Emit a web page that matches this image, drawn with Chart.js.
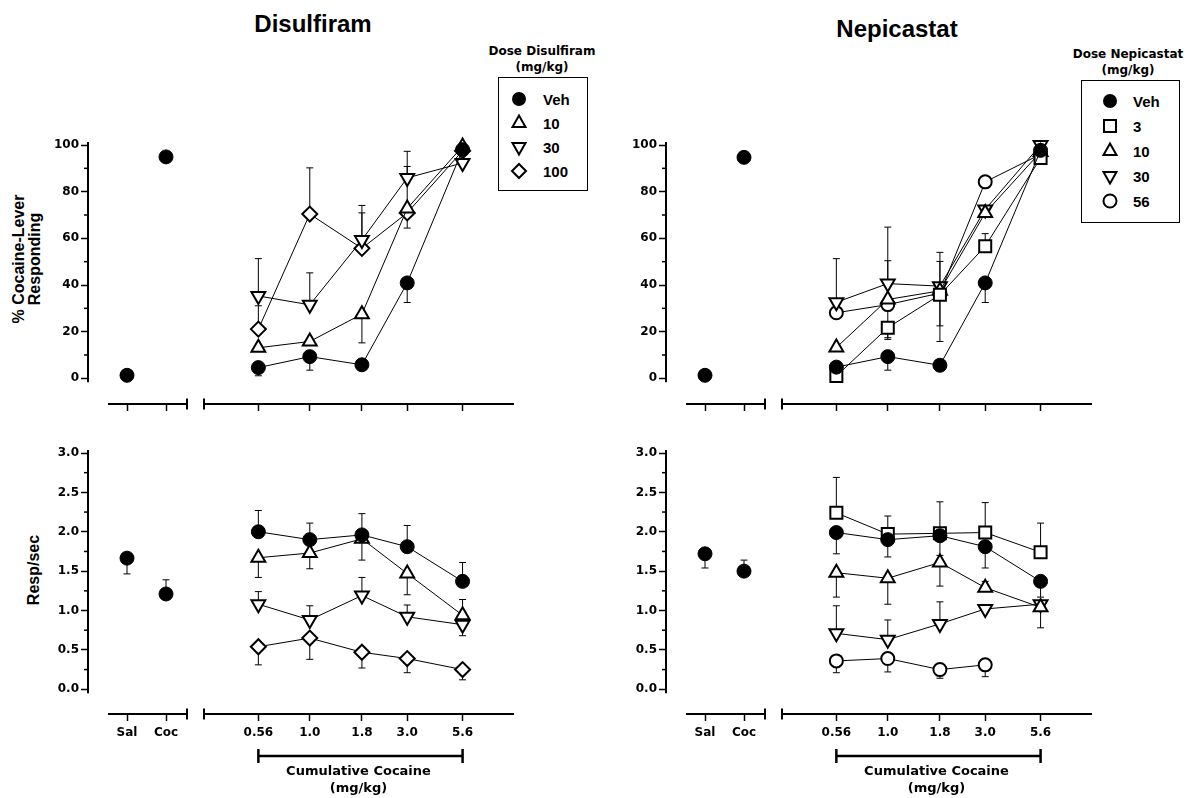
<!DOCTYPE html>
<html><head><meta charset="utf-8">
<script src="https://cdn.jsdelivr.net/npm/chart.js@4.4.1/dist/chart.umd.min.js"></script>
<style>
html,body{margin:0;padding:0;background:#fff;}
body{width:1192px;height:798px;overflow:hidden;position:relative;font-family:'Liberation Sans',Arial,sans-serif;color:#000;}
canvas{position:absolute;}
.t{position:absolute;font-weight:bold;white-space:nowrap;transform:translate(-50%,-50%);line-height:1;}
.yt{position:absolute;font-weight:bold;white-space:nowrap;text-align:center;font-size:16px;line-height:16px;transform:translate(-50%,-50%) rotate(-90deg);}
.lg{position:absolute;border:1.5px solid #000;box-sizing:border-box;}
.li{position:absolute;font-weight:bold;font-size:15px;transform:translateY(-50%);line-height:1;}
.ls{position:absolute;transform:translate(-50%,-50%);}
.lt{position:absolute;font-family:'DejaVu Sans',sans-serif;font-weight:bold;font-size:12px;transform:translate(-50%,-50%);white-space:nowrap;line-height:1;}
</style></head><body>
<div class="t" style="left:313px;top:24px;font-size:24px;">Disulfiram</div>
<div class="t" style="left:897px;top:29px;font-size:24px;">Nepicastat</div>
<div class="yt" style="left:27px;top:259px;">% Cocaine-Lever<br>Responding</div>
<div class="yt" style="left:34px;top:570px;">Resp/sec</div>
<div id="legends"></div>
<canvas id="c1" width="168" height="291" style="left:28px;top:133px;"></canvas>
<canvas id="c2" width="311" height="291" style="left:203px;top:133px;"></canvas>
<canvas id="c3" width="168" height="291" style="left:606px;top:133px;"></canvas>
<canvas id="c4" width="311" height="291" style="left:781px;top:133px;"></canvas>
<canvas id="c5" width="168" height="357" style="left:28px;top:441px;"></canvas>
<canvas id="c6" width="311" height="357" style="left:203px;top:441px;"></canvas>
<canvas id="c7" width="168" height="357" style="left:606px;top:441px;"></canvas>
<canvas id="c8" width="311" height="357" style="left:781px;top:441px;"></canvas>
<script>
// ---------------- DATA ----------------
const controlLabels = ['Sal', 'Coc'];
const doses = [0.56, 1.0, 1.8, 3.0, 5.6];
const doseLabels = ['0.56', '1.0', '1.8', '3.0', '5.6'];
const pctTicks = [0, 20, 40, 60, 80, 100];
const rateTicks = [0.0, 0.5, 1.0, 1.5, 2.0, 2.5, 3.0];
// error arrays: signed SEM, + drawn upward, - drawn downward, null = not visible

// Disulfiram, % cocaine-lever responding
const disCtrlPct = [1.3, 94.9];
const disVehPct = [4.6, 9.3, 5.8, 40.9, 98.0];
const dis10Pct = [13.1, 15.8, 27.5, 72.8, 99.4];
const dis30Pct = [35.3, 31.5, 59.3, 85.9, 92.3];
const dis100Pct = [21.1, 70.4, 55.7, 70.9, 97.5];
const disCtrlPctErr = [null, null];
const disVehPctErr = [-3.5, -5.8, -2.0, -8.4, null];
const dis10PctErr = [null, null, -12.3, 18.0, null];
const dis30PctErr = [16.0, 13.7, 14.8, 11.4, null];
const dis100PctErr = [10.0, 19.8, 15.2, -6.5, null];

// Disulfiram, response rate (resp/sec)
const disCtrlRate = [1.665, 1.21];
const disVehRate = [2.0, 1.9, 1.96, 1.81, 1.37];
const dis10Rate = [1.67, 1.73, 1.91, 1.47, 0.94];
const dis30Rate = [1.08, 0.88, 1.19, 0.92, 0.82];
const dis100Rate = [0.54, 0.65, 0.47, 0.39, 0.25];
const disCtrlRateErr = [-0.2, 0.18];
const disVehRateErr = [0.27, 0.21, 0.27, 0.27, 0.24];
const dis10RateErr = [-0.25, -0.2, -0.27, -0.27, 0.2];
const dis30RateErr = [0.16, 0.18, 0.23, 0.15, -0.14];
const dis100RateErr = [-0.23, -0.27, -0.2, -0.18, -0.13];

// Nepicastat, % cocaine-lever responding
const nepCtrlPct = [1.3, 94.7];
const nepVehPct = [4.8, 9.3, 5.6, 40.9, 97.7];
const nep3Pct = [1.0, 21.7, 35.8, 56.6, 94.4];
const nep10Pct = [13.2, 33.8, 37.5, 70.9, 97.0];
const nep30Pct = [32.6, 40.6, 39.5, 72.4, 100.0];
const nep56Pct = [28.1, 31.6, 36.5, 84.2, 96.0];
const nepCtrlPctErr = [null, null];
const nepVehPctErr = [-3.0, -5.8, null, -8.4, null];
const nep3PctErr = [null, -4.3, -20.0, 5.4, null];
const nep10PctErr = [null, 16.6, 12.6, null, null];
const nep30PctErr = [18.7, 24.2, 14.5, null, null];
const nep56PctErr = [null, -14.9, -14.0, null, null];

// Nepicastat, response rate (resp/sec)
const nepCtrlRate = [1.72, 1.50];
const nepVehRate = [1.99, 1.90, 1.95, 1.81, 1.37];
const nep3Rate = [2.24, 1.97, 1.98, 1.99, 1.74];
const nep10Rate = [1.48, 1.41, 1.61, 1.29, 1.04];
const nep30Rate = [0.71, 0.63, 0.83, 1.02, 1.08];
const nep56Rate = [0.36, 0.39, 0.25, 0.31, null];
const nepCtrlRateErr = [-0.18, 0.14];
const nepVehRateErr = [-0.27, -0.22, -0.25, -0.27, -0.2];
const nep3RateErr = [0.45, 0.23, 0.4, 0.38, 0.37];
const nep10RateErr = [-0.31, -0.33, -0.3, 0.08, -0.26];
const nep30RateErr = [0.35, 0.25, 0.28, null, null];
const nep56RateErr = [-0.15, -0.17, -0.11, -0.15, null];

// ---------------- STYLE ----------------
const TICKFONT = {family: "'DejaVu Sans', sans-serif", size: 12, weight: 'bold'};
const MARK = {
  veh: {pointStyle: 'circle', pointRadius: 7, pointBackgroundColor: '#000', pointBorderColor: '#000', pointBorderWidth: 1},
  sq:  {pointStyle: 'rect', pointRadius: 8.5, pointBackgroundColor: '#fff', pointBorderColor: '#000', pointBorderWidth: 2},
  tri: {pointStyle: 'triangle', pointRadius: 8, pointBackgroundColor: '#fff', pointBorderColor: '#000', pointBorderWidth: 2},
  inv: {pointStyle: 'triangle', pointRotation: 180, pointRadius: 8, pointBackgroundColor: '#fff', pointBorderColor: '#000', pointBorderWidth: 2},
  dia: {pointStyle: 'rectRot', pointRadius: 7.5, pointBackgroundColor: '#fff', pointBorderColor: '#000', pointBorderWidth: 2},
  cir: {pointStyle: 'circle', pointRadius: 6.5, pointBackgroundColor: '#fff', pointBorderColor: '#000', pointBorderWidth: 2}
};

function pts(xs, ys) { return xs.map((x, i) => ({x: x, y: ys[i]})); }
function ds(xs, ys, errs, mark, line) {
  return Object.assign({data: pts(xs, ys), errs: errs, showLine: line, borderColor: '#000', borderWidth: 1,
    clip: false, spanGaps: false, pointHoverRadius: 0}, MARK[mark]);
}

const decor = {
  id: 'decor',
  beforeDatasetsDraw(chart) {
    const ctx = chart.ctx, ys = chart.scales.y;
    ctx.save(); ctx.strokeStyle = '#000'; ctx.lineWidth = 1;
    chart.data.datasets.forEach((d, di) => {
      if (!d.errs) return;
      const meta = chart.getDatasetMeta(di);
      meta.data.forEach((p, i) => {
        const e = d.errs[i], v = d.data[i] ? d.data[i].y : null;
        if (e == null || v == null) return;
        const y1 = ys.getPixelForValue(v + e);
        ctx.beginPath();
        ctx.moveTo(p.x, p.y); ctx.lineTo(p.x, y1);
        ctx.moveTo(p.x - 3.5, y1); ctx.lineTo(p.x + 3.5, y1);
        ctx.stroke();
      });
    });
    ctx.restore();
  },
  afterDraw(chart, args, o) {
    const ctx = chart.ctx, a = chart.chartArea, xs = chart.scales.x, ys = chart.scales.y;
    const ln = (x1, y1, x2, y2) => { ctx.beginPath(); ctx.moveTo(x1, y1); ctx.lineTo(x2, y2); ctx.stroke(); };
    ctx.save(); ctx.strokeStyle = '#000'; ctx.lineWidth = 2;
    if (o.yAxis) {
      ln(a.left, ys.getPixelForValue(ys.max) - 3, a.left, ys.getPixelForValue(0) + 4);
      ctx.lineWidth = 1.5;
      const t = ys.ticks.map(k => k.value);
      for (let i = 0; i < t.length - 1; i++) {
        const yy = ys.getPixelForValue((t[i] + t[i + 1]) / 2);
        ln(a.left, yy, a.left - 4, yy);
      }
      ctx.lineWidth = 2;
    }
    const yb = a.bottom;
    if (o.seg === 'ctrl') {
      const x1 = xs.getPixelForValue(1) - 19, x2 = xs.getPixelForValue(2) + 21;
      ln(x1, yb, x2, yb);
      ln(x2, yb - 5.5, x2, yb + 5.5);
    } else if (o.seg === 'dose') {
      ln(a.left, yb, a.right, yb);
      ln(a.left + 1, yb - 5.5, a.left + 1, yb + 5.5);
    }
    if (o.bracket) {
      const by = yb + 42;
      const bx1 = xs.getPixelForValue(doses[0]), bx2 = xs.getPixelForValue(doses[doses.length - 1]);
      ctx.lineWidth = 2.5;
      ln(bx1, by, bx2, by);
      ln(bx1, by - 7, bx1, by + 7);
      ln(bx2, by - 7, bx2, by + 7);
    }
    ctx.restore();
  }
};

function yScale(range, majors, fmt, show) {
  return {
    type: 'linear', min: range[0], max: range[1], display: show,
    afterBuildTicks: s => { s.ticks = majors.map(v => ({value: v})); },
    afterFit: s => { s.width = show ? 60 : 0; },
    border: {display: false},
    grid: {drawOnChartArea: false, drawTicks: true, tickLength: 7, tickWidth: 1.5, tickColor: '#000'},
    ticks: {padding: 2, color: '#000', font: TICKFONT, callback: fmt}
  };
}
function xGrid(hideFirst) {
  return {drawOnChartArea: false, drawTicks: true, tickLength: 7, tickWidth: 1.5,
    tickColor: c => (hideFirst && c.index === 0) ? 'rgba(0,0,0,0)' : '#000'};
}

function makeCtrl(id, vals, errs, yRange, majors, fmt, bottom) {
  const H = bottom ? 84 : 20;
  new Chart(document.getElementById(id), {
    type: 'line',
    data: {labels: [''].concat(controlLabels), datasets: [ds(controlLabels, vals, errs, 'veh', false)]},
    options: {
      responsive: false, animation: false, devicePixelRatio: 1, events: [],
      layout: {autoPadding: false, padding: {top: 12, right: 30, left: 0, bottom: 0}},
      plugins: {legend: {display: false}, tooltip: {enabled: false}, decor: {yAxis: true, seg: 'ctrl'}},
      scales: {
        x: {type: 'category', offset: false, afterFit: s => { s.height = H; },
          border: {display: false}, grid: xGrid(true),
          ticks: {display: bottom, autoSkip: false, maxRotation: 0, padding: 5, color: '#000', font: TICKFONT}},
        y: yScale(yRange, majors, fmt, true)
      }
    },
    plugins: [decor]
  });
}

function makeDose(id, series, yRange, majors, bottom) {
  const H = bottom ? 84 : 20;
  new Chart(document.getElementById(id), {
    type: 'line',
    data: {datasets: series.map(s => ds(doses, s[0], s[1], s[2], true))},
    options: {
      responsive: false, animation: false, devicePixelRatio: 1, events: [],
      layout: {autoPadding: false, padding: {top: 12, right: 0, left: 0, bottom: 0}},
      plugins: {legend: {display: false}, tooltip: {enabled: false}, decor: {yAxis: false, seg: 'dose', bracket: bottom}},
      scales: {
        x: {type: 'logarithmic', min: 0.3, max: 10, afterFit: s => { s.height = H; },
          afterBuildTicks: s => { s.ticks = doses.map(v => ({value: v})); },
          border: {display: false}, grid: xGrid(false),
          ticks: {display: bottom, autoSkip: false, maxRotation: 0, padding: 5, color: '#000', font: TICKFONT,
            callback: (v, i) => doseLabels[i]},
          title: {display: bottom, text: ['Cumulative Cocaine', '(mg/kg)'], color: '#000',
            font: {family: "'DejaVu Sans', sans-serif", size: 13, weight: 'bold', lineHeight: 1.28},
            padding: {top: 0, bottom: 1.5}}},
        y: yScale(yRange, majors, v => '', false)
      }
    },
    plugins: [decor]
  });
}

const pctFmt = v => String(v);
const rateFmt = v => v.toFixed(1);
const PCT = [-11, 100], RATE = [-0.314, 3];

makeCtrl('c1', disCtrlPct, disCtrlPctErr, PCT, pctTicks, pctFmt, false);
makeDose('c2', [[disVehPct, disVehPctErr, 'veh'], [dis10Pct, dis10PctErr, 'tri'], [dis30Pct, dis30PctErr, 'inv'], [dis100Pct, dis100PctErr, 'dia']], PCT, pctTicks, false);
makeCtrl('c3', nepCtrlPct, nepCtrlPctErr, PCT, pctTicks, pctFmt, false);
makeDose('c4', [[nepVehPct, nepVehPctErr, 'veh'], [nep3Pct, nep3PctErr, 'sq'], [nep10Pct, nep10PctErr, 'tri'], [nep30Pct, nep30PctErr, 'inv'], [nep56Pct, nep56PctErr, 'cir']], PCT, pctTicks, false);
makeCtrl('c5', disCtrlRate, disCtrlRateErr, RATE, rateTicks, rateFmt, true);
makeDose('c6', [[disVehRate, disVehRateErr, 'veh'], [dis10Rate, dis10RateErr, 'tri'], [dis30Rate, dis30RateErr, 'inv'], [dis100Rate, dis100RateErr, 'dia']], RATE, rateTicks, true);
makeCtrl('c7', nepCtrlRate, nepCtrlRateErr, RATE, rateTicks, rateFmt, true);
makeDose('c8', [[nepVehRate, nepVehRateErr, 'veh'], [nep3Rate, nep3RateErr, 'sq'], [nep10Rate, nep10RateErr, 'tri'], [nep30Rate, nep30RateErr, 'inv'], [nep56Rate, nep56RateErr, 'cir']], RATE, rateTicks, true);

// ---------------- LEGENDS (HTML) ----------------
const disLegend = [['veh', 'Veh'], ['tri', '10'], ['inv', '30'], ['dia', '100']];
const nepLegend = [['veh', 'Veh'], ['sq', '3'], ['tri', '10'], ['inv', '30'], ['cir', '56']];
const SVG = {
  veh: '<circle cx="10" cy="10" r="7" fill="#000"/>',
  cir: '<circle cx="10" cy="10" r="6.5" fill="#fff" stroke="#000" stroke-width="2"/>',
  sq: '<rect x="4" y="4" width="12" height="12" fill="#fff" stroke="#000" stroke-width="2"/>',
  tri: '<polygon points="10,2.5 16.5,14 3.5,14" fill="#fff" stroke="#000" stroke-width="2"/>',
  inv: '<polygon points="10,17.5 16.5,6 3.5,6" fill="#fff" stroke="#000" stroke-width="2"/>',
  dia: '<polygon points="10,3 17,10 10,17 3,10" fill="#fff" stroke="#000" stroke-width="2"/>'
};
function legend(items, title, tx, ty, box, symX, txtX, row0, rowStep) {
  let h = '<div class="lt" style="left:' + tx + 'px;top:' + ty[0] + 'px;">' + title[0] + '</div>' +
          '<div class="lt" style="left:' + tx + 'px;top:' + ty[1] + 'px;">' + title[1] + '</div>' +
          '<div class="lg" style="left:' + box[0] + 'px;top:' + box[1] + 'px;width:' + box[2] + 'px;height:' + box[3] + 'px;"></div>';
  items.forEach((it, i) => {
    const y = row0 + rowStep * i;
    h += '<svg class="ls" width="20" height="20" style="left:' + symX + 'px;top:' + y + 'px;">' + SVG[it[0]] + '</svg>';
    h += '<div class="li" style="left:' + txtX + 'px;top:' + y + 'px;">' + it[1] + '</div>';
  });
  return h;
}
document.getElementById('legends').innerHTML =
  legend(disLegend, ['Dose Disulfiram', '(mg/kg)'], 542, [51, 67], [498, 77, 90, 114], 519, 543, 99, 24) +
  legend(nepLegend, ['Dose Nepicastat', '(mg/kg)'], 1128, [54, 70], [1081, 80, 99, 143], 1110, 1133, 101, 25);
</script>
</body></html>
